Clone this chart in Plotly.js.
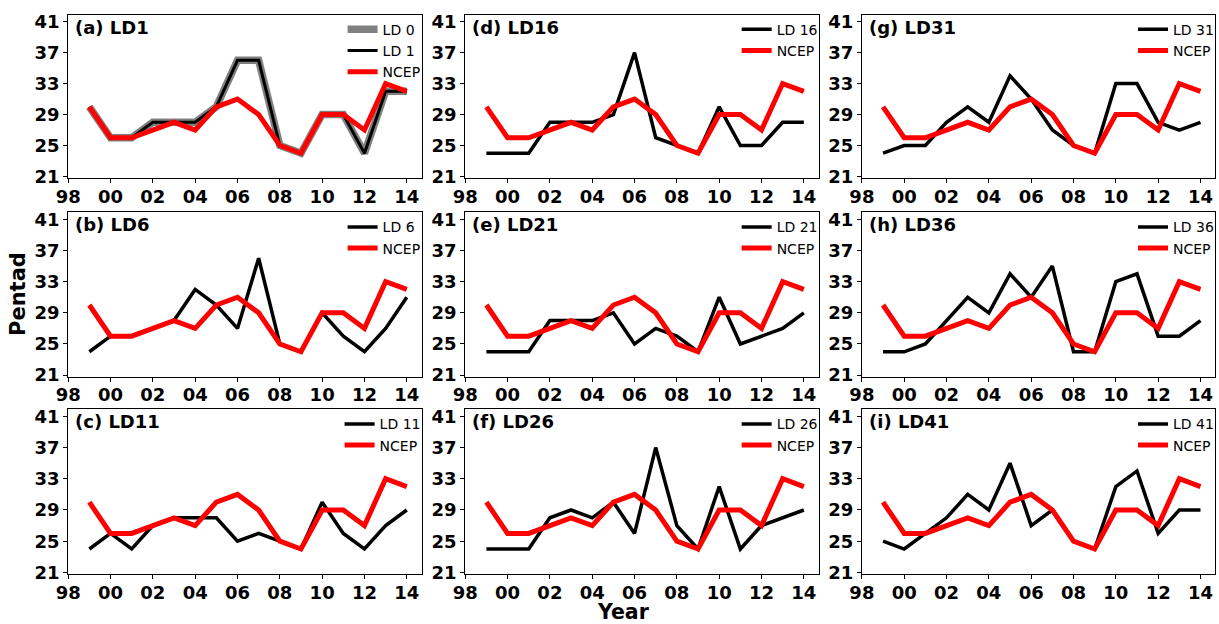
<!DOCTYPE html>
<html>
<head>
<meta charset="utf-8">
<script src="https://cdn.plot.ly/plotly-3.0.1.min.js"></script>
<style>html,body{margin:0;padding:0;background:#fff;}#chart{width:1219px;height:624px;}</style>
</head>
<body>
<div id="chart"></div>
<script>
// ---- data ----
var years = [1999,2000,2001,2002,2003,2004,2005,2006,2007,2008,2009,2010,2011,2012,2013,2014];
var xTickVals = [1998,2000,2002,2004,2006,2008,2010,2012,2014];
var xTickText = ['98','00','02','04','06','08','10','12','14'];
var yTickVals = [21,25,29,33,37,41];

var NCEP = [30,26,26,27,28,27,30,31,29,25,24,29,29,27,33,32];
var LD0  = [30,26,26,28,28,28,30,36,36,25,24,29,29,24,32,32];
var LD1  = [30,26,26,28,28,28,30,36,36,25,24,29,29,24,32,32];
var LD6  = [24,26,26,27,28,32,30,27,36,25,24,29,26,24,27,31];
var LD11 = [24,26,24,27,28,28,28,25,26,25,24,30,26,24,27,29];
var LD16 = [24,24,24,28,28,28,29,37,26,25,24,30,25,25,28,28];
var LD21 = [24,24,24,28,28,28,29,25,27,26,24,31,25,26,27,29];
var LD26 = [24,24,24,28,29,28,30,26,37,27,24,32,24,27,28,29];
var LD31 = [24,25,25,28,30,28,34,31,27,25,24,33,33,28,27,28];
var LD36 = [24,24,25,28,31,29,34,31,35,24,24,33,34,26,26,28];
var LD41 = [25,24,26,28,31,29,35,27,29,25,24,32,34,26,29,29];

var panelTitles = ['(a) LD1','(b) LD6','(c) LD11','(d) LD16','(e) LD21','(f) LD26','(g) LD31','(h) LD36','(i) LD41'];
var panelNames  = ['LD 1','LD 6','LD 11','LD 16','LD 21','LD 26','LD 31','LD 36','LD 41'];
var panelSeries = [LD1, LD6, LD11, LD16, LD21, LD26, LD31, LD36, LD41];

// ---- layout geometry (pixels) ----
var W = 1219, H = 624;
var colsPx = [[68.3,422.3],[466,820],[863.3,1217.3]];
var rowsPx = [[14.7,178],[212.3,376.7],[409.3,574]];
function px2x(p){return p/W;}
function px2y(p){return 1 - p/H;}

var FONT = '"DejaVu Sans", Verdana, sans-serif';
var traces = [];
var layout = {
  width: W, height: H,
  margin: {l:0,r:0,t:0,b:0},
  paper_bgcolor: '#fff', plot_bgcolor: '#fff',
  showlegend: true,
  annotations: []
};

for (var i = 0; i < 9; i++) {
  var col = Math.floor(i/3), row = i % 3;
  var n = i + 1;
  var xa = 'xaxis' + (n === 1 ? '' : n), ya = 'yaxis' + (n === 1 ? '' : n);
  var xr = 'x' + (n === 1 ? '' : n), yr = 'y' + (n === 1 ? '' : n);
  var lg = 'legend' + (n === 1 ? '' : n);
  var cx = colsPx[col], ry = rowsPx[row];
  var axCommon = {
    showgrid: false, zeroline: false,
    showline: true, mirror: true, linecolor: '#000', linewidth: 1,
    ticks: 'outside', ticklen: 4, tickwidth: 1, tickcolor: '#000',
    tickfont: {family: FONT, size: 18, color: '#000', weight: 'bold'},
    tickmode: 'array', fixedrange: true
  };
  layout[xa] = Object.assign({}, axCommon, {
    domain: [px2x(cx[0]), px2x(cx[1])],
    range: [1998, 2014.7],
    tickvals: xTickVals, ticktext: xTickText,
    ticklabelstandoff: -2,
    anchor: yr
  });
  layout[ya] = Object.assign({}, axCommon, {
    domain: [px2y(ry[1]), px2y(ry[0])],
    range: [20.8, 41.9],
    tickvals: yTickVals,
    anchor: xr
  });
  layout[lg] = {
    x: px2x(cx[1] + 4), xanchor: 'right',
    y: px2y(ry[0] - 1), yanchor: 'top',
    bgcolor: 'rgba(0,0,0,0)', borderwidth: 0,
    font: {family: FONT, size: 14, color: '#000'},
    itemwidth: 30, tracegroupgap: 0
  };
  if (i === 0) {
    traces.push({x: years, y: LD0, xaxis: xr, yaxis: yr, legend: lg, name: 'LD 0',
      mode: 'lines', line: {color: '#808080', width: 7.5}});
  }
  traces.push({x: years, y: panelSeries[i], xaxis: xr, yaxis: yr, legend: lg, name: panelNames[i],
    mode: 'lines', line: {color: '#000', width: i === 0 ? 3 : 3.5}});
  traces.push({x: years, y: NCEP, xaxis: xr, yaxis: yr, legend: lg, name: 'NCEP',
    mode: 'lines', line: {color: '#ff0000', width: 5}});
  layout.annotations.push({
    xref: 'paper', yref: 'paper',
    x: px2x(cx[0] + 5), y: px2y(ry[0] + 12.6),
    xanchor: 'left', yanchor: 'middle', showarrow: false,
    text: panelTitles[i],
    font: {family: FONT, size: 18, color: '#000', weight: 'bold'}
  });
}

layout.annotations.push({
  xref: 'paper', yref: 'paper', x: px2x(18), y: px2y(294),
  xanchor: 'center', yanchor: 'middle', showarrow: false, textangle: -90,
  text: 'Pentad', font: {family: FONT, size: 21, color: '#000', weight: 'bold'}
});
layout.annotations.push({
  xref: 'paper', yref: 'paper', x: px2x(625), y: px2y(612),
  xanchor: 'center', yanchor: 'middle', showarrow: false,
  text: 'Year', font: {family: FONT, size: 20.5, color: '#000', weight: 'bold'}
});

Plotly.newPlot('chart', traces, layout, {displayModeBar: false, staticPlot: true});
</script>
</body>
</html>
